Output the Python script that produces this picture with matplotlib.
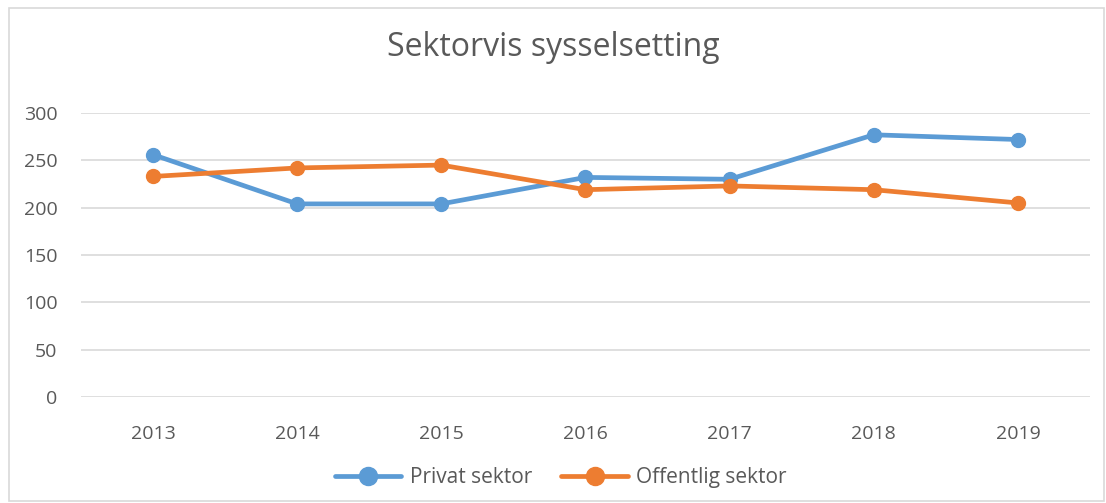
import matplotlib.pyplot as plt
from matplotlib.patches import Rectangle

# ------------ Data -------------
years = ["2013", "2014", "2015", "2016", "2017", "2018", "2019"]
privat = [256, 204, 204, 232, 230, 277, 272]
offentlig = [233, 242, 245, 219, 223, 219, 205]

blue = "#5B9BD5"
orange = "#ED7D31"
text_col = "#595959"

plt.rcParams["font.family"] = ["Open Sans", "DejaVu Sans"]

fig = plt.figure(figsize=(11.06, 5.03), dpi=100)
ax = fig.add_axes([0.0732, 0.2107, 0.9123, 0.5646])

x = range(len(years))
ax.plot(x, privat, color=blue, lw=3.4, marker="o", ms=10, label="Privat sektor",
        solid_capstyle="round", zorder=3)
ax.plot(x, offentlig, color=orange, lw=3.4, marker="o", ms=10, label="Offentlig sektor",
        solid_capstyle="round", zorder=3)

ax.set_xlim(-0.5, 6.5)
ax.set_ylim(0, 300)
ax.set_yticks(range(0, 301, 50))
ax.set_xticks(list(x))
ax.set_xticklabels(years)
ax.grid(axis="y", color="#D9D9D9", lw=1.2)
ax.set_axisbelow(True)
for s in ax.spines.values():
    s.set_visible(False)
ax.tick_params(length=0, labelsize=14, colors=text_col)
ax.tick_params(axis="x", pad=20)
ax.tick_params(axis="y", pad=17)

fig.text(0.5, 0.905, "Sektorvis sysselsetting", ha="center", va="center",
         fontsize=23, color=text_col)

leg = fig.legend(loc="center", bbox_to_anchor=(0.507, 0.05), ncol=2, frameon=False,
                 fontsize=15, handlelength=3.2, columnspacing=1.4, handletextpad=0.4,
                 markerscale=1.3)
for t in leg.get_texts():
    t.set_color(text_col)

# chart border
fig.patches.append(Rectangle((0.008, 0.004), 0.99, 0.98, transform=fig.transFigure,
                             fill=False, edgecolor="#D9D9D9", lw=1.2))

fig.savefig("out.png", dpi=100)
